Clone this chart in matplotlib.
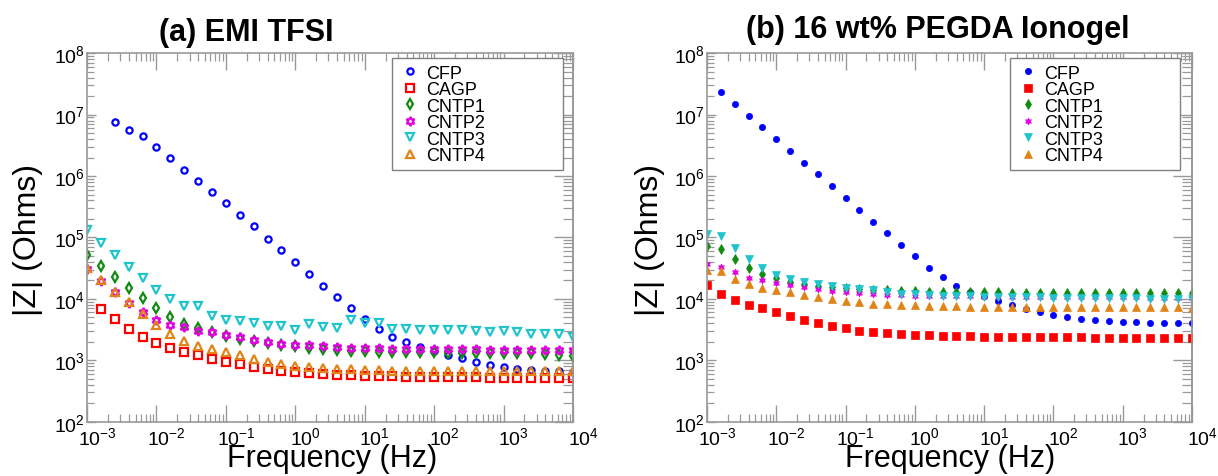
import matplotlib
matplotlib.use("Agg")
import matplotlib.pyplot as plt
import matplotlib.transforms as mtransforms
from matplotlib.ticker import LogLocator, NullFormatter
import numpy as np

plt.rcParams["font.family"] = ["Liberation Sans", "DejaVu Sans"]
plt.rcParams["mathtext.fontset"] = "custom"
plt.rcParams["mathtext.rm"] = "Liberation Sans"
plt.rcParams["mathtext.it"] = "Liberation Sans:italic"
plt.rcParams["mathtext.bf"] = "Liberation Sans:bold"

# measured frequencies, 5 points per decade
freq = [0.001, 0.00158, 0.00251, 0.00398, 0.00631,
        0.01, 0.0158, 0.0251, 0.0398, 0.0631,
        0.1, 0.158, 0.251, 0.398, 0.631,
        1, 1.58, 2.51, 3.98, 6.31,
        10, 15.8, 25.1, 39.8, 63.1,
        100, 158, 251, 398, 631,
        1000, 1580, 2510, 3980, 6310,
        10000]

labels = ["CFP", "CAGP", "CNTP1", "CNTP2", "CNTP3", "CNTP4"]

# (a) EMI TFSI  -- |Z| in Ohms, nan where no point is shown
emi_cfp = [np.nan, np.nan,
           7.6e6, 5.65e6, 4.5e6, 2.95e6, 1.95e6, 1.26e6, 8.35e5, 5.53e5,
           3.6e5, 2.33e5, 1.51e5, 9.6e4, 6.2e4, 3.96e4, 2.56e4, 1.65e4,
           1.07e4, 6.98e3, 4.62e3, 3.18e3, 2.41e3, 1.95e3, 1.62e3, 1.4e3,
           1.23e3, 1.07e3, 946, 845, 764, 718, 692, 675, 660, 650]
emi_cagp = [np.nan,
            6.8e3, 4.62e3, 3.21e3, 2.35e3, 1.88e3, 1.58e3, 1.36e3, 1.2e3,
            1.06e3, 946, 855, 774, 718, 675, 641, 618, 596, 581, 566, 560,
            552, 546, 542, 540, 535, 532, 528, 526, 524, 522, 520, 519, 519,
            518, 513]
emi_cntp1 = [5.15e4, 3.37e4, 2.29e4, 1.53e4, 1.03e4, 6.98e3, 4.98e3, 3.88e3,
             3.3e3, 2.84e3, 2.5e3, 2.26e3, 2.08e3, 1.9e3, 1.77e3, 1.68e3,
             1.58e3, 1.52e3, 1.46e3, 1.43e3, 1.39e3, 1.37e3, 1.36e3, 1.35e3,
             1.35e3, 1.34e3, 1.33e3, 1.33e3, 1.32e3, 1.32e3, 1.32e3, 1.31e3,
             1.3e3, 1.28e3, 1.23e3, 1.18e3]
emi_cntp2 = [3.05e4, 1.97e4, 1.27e4, 8.5e3, 6.0e3, 4.56e3, 3.78e3, 3.42e3,
             3.02e3, 2.84e3, 2.57e3, 2.35e3, 2.13e3, 2.0e3, 1.86e3, 1.79e3,
             1.76e3, 1.68e3, 1.62e3, 1.58e3, 1.58e3, 1.56e3, 1.54e3, 1.53e3,
             1.52e3, 1.52e3, 1.51e3, 1.5e3, 1.5e3, 1.49e3, 1.49e3, 1.49e3,
             1.48e3, 1.48e3, 1.48e3, 1.48e3]
emi_cntp3 = [1.31e5, 8.07e4, 5.15e4, 3.33e4, 2.15e4, 1.37e4, 1.01e4, 7.52e3,
             7.52e3, 5.24e3, 4.51e3, 4.29e3, 4.03e3, 3.65e3, 3.65e3, 3.1e3,
             3.83e3, 3.51e3, 3.38e3, 4.51e3, 4.03e3, 4.08e3, 3.26e3, 3.18e3,
             3.1e3, 3.06e3, 3.1e3, 3.14e3, 2.95e3, 2.88e3, 2.95e3, 2.84e3,
             2.7e3, 2.7e3, 2.65e3, 2.41e3]
emi_cntp4 = [3.2e4, 2.04e4, 1.3e4, 8.73e3, 5.57e3, 3.73e3, 2.67e3, 2.08e3,
             1.72e3, 1.52e3, 1.34e3, 1.21e3, 1.04e3, 946, 867, 813, 764, 736,
             718, 709, 692, 685, 680, 678, 675, 672, 670, 668, 667, 665, 664,
             663, 662, 661, 660, 660]

# (b) 16 wt% PEGDA ionogel
gel_cfp = [np.nan,
           2.35e7, 1.5e7, 9.66e6, 6.24e6, 3.98e6, 2.54e6, 1.64e6, 1.06e6,
           6.76e5, 4.37e5, 2.78e5, 1.79e5, 1.16e5, 7.5e4, 4.9e4, 3.24e4,
           2.23e4, 1.63e4, 1.3e4, 1.1e4, 9.3e3, 8.0e3, 6.8e3, 6.0e3, 5.43e3,
           4.98e3, 4.62e3, 4.45e3, 4.36e3, 4.24e3, 4.13e3, 4.08e3, 4.03e3,
           3.98e3, 3.98e3]
gel_cagp = [1.67e4, 1.22e4, 9.5e3, 8.0e3, 6.98e3, 6.15e3, 5.3e3, 4.56e3,
            4.03e3, 3.65e3, 3.3e3, 3.02e3, 2.88e3, 2.77e3, 2.67e3, 2.57e3,
            2.54e3, 2.5e3, 2.46e3, 2.44e3, 2.42e3, 2.4e3, 2.39e3, 2.38e3,
            2.37e3, 2.36e3, 2.35e3, 2.35e3, 2.34e3, 2.33e3, 2.33e3, 2.32e3,
            2.32e3, 2.31e3, 2.3e3, 2.3e3]
gel_cntp1 = [7.13e4, 6.45e4, 4.49e4, 3.2e4, 2.53e4, 2.15e4, 1.9e4, 1.74e4,
             1.63e4, 1.57e4, 1.51e4, 1.47e4, 1.41e4, 1.37e4, 1.34e4, 1.32e4,
             1.3e4, 1.29e4, 1.28e4, 1.28e4, 1.27e4, 1.27e4, 1.26e4, 1.26e4,
             1.26e4, 1.25e4, 1.25e4, 1.25e4, 1.25e4, 1.24e4, 1.24e4, 1.24e4,
             1.24e4, 1.24e4, 1.24e4, 1.24e4]
gel_cntp2 = [3.63e4, 3.33e4, 2.69e4, 2.2e4, 2.0e4, 1.83e4, 1.69e4, 1.55e4,
             1.47e4, 1.36e4, 1.3e4, 1.24e4, 1.21e4, 1.16e4, 1.15e4, 1.13e4,
             1.12e4, 1.11e4, 1.1e4, 1.1e4, 1.09e4, 1.09e4, 1.08e4, 1.08e4,
             1.08e4, 1.07e4, 1.07e4, 1.07e4, 1.06e4, 1.06e4, 1.06e4, 1.06e4,
             1.05e4, 1.05e4, 1.05e4, 1.05e4]
gel_cntp3 = [1.13e5, 1.04e5, 6.7e4, 4.49e4, 3.16e4, 2.47e4, 2.1e4, 1.87e4,
             1.74e4, 1.63e4, 1.53e4, 1.47e4, 1.41e4, 1.27e4, 1.22e4, 1.18e4,
             1.15e4, 1.13e4, 1.11e4, 1.1e4, 1.09e4, 1.08e4, 1.07e4, 1.06e4,
             1.06e4, 1.05e4, 1.04e4, 1.04e4, 1.03e4, 1.03e4, 1.02e4, 1.02e4,
             1.01e4, 1.0e4, 1.0e4, 9.9e3]
gel_cntp4 = [2.97e4, 2.79e4, 2.1e4, 1.74e4, 1.53e4, 1.41e4, 1.27e4, 1.15e4,
             1.07e4, 9.9e3, 9.3e3, 8.85e3, 8.4e3, 8.1e3, 7.9e3, 7.8e3, 7.7e3,
             7.6e3, 7.55e3, 7.5e3, 7.45e3, 7.4e3, 7.4e3, 7.35e3, 7.35e3,
             7.3e3, 7.3e3, 7.3e3, 7.3e3, 7.3e3, 7.3e3, 7.25e3, 7.25e3,
             7.25e3, 7.25e3, 7.2e3]

colors = ["#0000ff", "#ff0000", "#108a10", "#e000e0", "#20c4cc", "#e08418"]
markers = ["o", "s", "d", (6, 1, 0), "v", "^"]
open_sizes = [4.5, 5.2, 5.5, 6.5, 6.2, 6.2]
fill_sizes = [4.5, 6.0, 5.5, 5.0, 6.0, 6.0]
frame_gray = "#999999"

fig = plt.figure(figsize=(12.18, 4.77), dpi=100)
ax1 = fig.add_axes([87 / 1218, 54.3 / 477, 486 / 1218, 368.5 / 477])
ax2 = fig.add_axes([707 / 1218, 54.3 / 477, 485 / 1218, 368.5 / 477])

emi = [emi_cfp, emi_cagp, emi_cntp1, emi_cntp2, emi_cntp3, emi_cntp4]
gel = [gel_cfp, gel_cagp, gel_cntp1, gel_cntp2, gel_cntp3, gel_cntp4]

for i in range(6):
    ax1.plot(freq, emi[i], linestyle="none", marker=markers[i],
             markersize=open_sizes[i], markerfacecolor="none",
             markeredgecolor=colors[i], markeredgewidth=1.6, label=labels[i])
    ax2.plot(freq, gel[i], linestyle="none", marker=markers[i],
             markersize=fill_sizes[i], color=colors[i],
             markeredgewidth=0.5, label=labels[i])

shift = mtransforms.ScaledTranslation(10 / 100, 0, fig.dpi_scale_trans)

for ax in (ax1, ax2):
    ax.set_xscale("log")
    ax.set_yscale("log")
    ax.set_xlim(1e-3, 1e4)
    ax.set_ylim(1e2, 1e8)
    ax.xaxis.set_major_locator(LogLocator(base=10, numticks=20))
    ax.xaxis.set_minor_locator(LogLocator(base=10, subs=np.arange(2, 10), numticks=20))
    ax.xaxis.set_minor_formatter(NullFormatter())
    ax.yaxis.set_major_locator(LogLocator(base=10, numticks=20))
    ax.yaxis.set_minor_locator(LogLocator(base=10, subs=np.arange(2, 10), numticks=20))
    ax.yaxis.set_minor_formatter(NullFormatter())
    for sp in ax.spines.values():
        sp.set_color(frame_gray)
        sp.set_linewidth(1.2)
    ax.tick_params(axis="x", which="both", direction="in", top=True,
                   bottom=True, color=frame_gray, labelsize=14, pad=3.5)
    ax.tick_params(axis="x", which="major", length=12, width=1.0)
    ax.tick_params(axis="x", which="minor", length=6, width=0.9)
    ax.tick_params(axis="y", which="both", direction="in", left=True,
                   right=False, color=frame_gray, labelsize=14, pad=1.5)
    ax.tick_params(axis="y", which="major", length=6.5, width=1.0)
    ax.tick_params(axis="y", which="minor", length=5, width=0.9)
    for lab in ax.get_xticklabels():
        lab.set_transform(lab.get_transform() + shift)

    # right-hand axis carries its own, longer ticks
    sec = ax.secondary_yaxis("right")
    sec.yaxis.set_major_locator(LogLocator(base=10, numticks=20))
    sec.yaxis.set_minor_locator(LogLocator(base=10, subs=np.arange(2, 10), numticks=20))
    sec.yaxis.set_minor_formatter(NullFormatter())
    sec.spines["right"].set_color(frame_gray)
    sec.spines["right"].set_linewidth(1.2)
    sec.tick_params(which="both", direction="in", color=frame_gray,
                    labelright=False)
    sec.tick_params(which="major", length=14, width=1.0)
    sec.tick_params(which="minor", length=7, width=0.9)

for ax, x0 in ((ax1, 0.628), (ax2, 0.625)):
    leg = ax.legend(loc="upper left", bbox_to_anchor=(x0, 0.5, 0.351, 0.486),
                    mode="expand", borderaxespad=0, fontsize=13, numpoints=1,
                    handlelength=1.3, handletextpad=0.25, borderpad=0.35,
                    labelspacing=-0.03, fancybox=False, framealpha=1)
    leg.get_frame().set_edgecolor("#808080")
    leg.get_frame().set_linewidth(1.0)

fig.text(0.202, 0.9147, "(a) EMI TFSI", ha="center", va="baseline",
         fontsize=22, fontweight="bold")
fig.text(0.770, 0.921, "(b) 16 wt% PEGDA Ionogel", ha="center",
         va="baseline", fontsize=22, fontweight="bold")
fig.text(0.023, 0.497, "|Z| (Ohms)", rotation=90, ha="center", va="center",
         fontsize=23)
fig.text(0.534, 0.497, "|Z| (Ohms)", rotation=90, ha="center", va="center",
         fontsize=23)
fig.text(0.2726, 0.0216, "Frequency (Hz)", ha="center", va="baseline",
         fontsize=22)
fig.text(0.780, 0.0216, "Frequency (Hz)", ha="center", va="baseline",
         fontsize=22)

fig.savefig("out.png", dpi=100)
